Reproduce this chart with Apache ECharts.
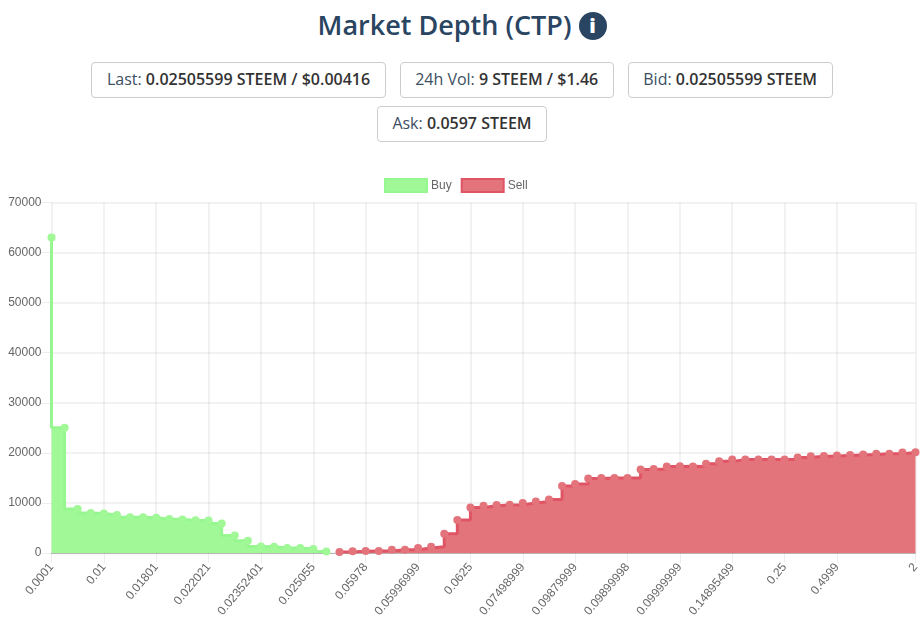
<!DOCTYPE html>
<html>
<head>
<meta charset="utf-8">
<title>Market Depth (CTP)</title>
<script src="https://cdn.jsdelivr.net/npm/echarts@6/dist/echarts.min.js"></script>
<style>
  html, body { margin: 0; padding: 0; background: #fff; }
  body { width: 924px; height: 633px; overflow: hidden; font-family: "Open Sans", sans-serif; position: relative; }
  h1 { position: absolute; left: 0; top: 5px; width: 924px; margin: 0; text-align: center; font-size: 27px; line-height: 40px; font-weight: 600; color: #2a4562; }
  .info { display: inline-block; width: 28px; height: 28px; line-height: 28px; border-radius: 50%; background: #2a4562; color: #fff; font-size: 20px; font-weight: 800; vertical-align: 2px; }
  .stats { position: absolute; left: 82px; top: 62px; width: 760px; display: flex; flex-wrap: wrap; justify-content: center; gap: 8px 14px; }
  .stats div { box-sizing: border-box; height: 36px; line-height: 33px; padding: 0 14.5px; border: 1px solid #ccc; border-radius: 4px; font-size: 16px; color: #3c4f63; white-space: nowrap; }
  .stats b { font-weight: 600; color: #333; }
  #chart { position: absolute; left: 0; top: 170px; width: 924px; height: 463px; }
</style>
</head>
<body>
<h1>Market Depth (CTP) <span class="info">i</span></h1>
<div class="stats">
  <div>Last: <b>0.02505599 STEEM / $0.00416</b></div>
  <div>24h Vol: <b>9 STEEM / $1.46</b></div>
  <div>Bid: <b>0.02505599 STEEM</b></div>
  <div>Ask: <b>0.0597 STEEM</b></div>
</div>
<div id="chart"></div>
<script>
// 读图估的数值
var buyDepth = [63000, 25000, 8800, 8000, 7900, 7600, 7150, 7150, 7050, 6800, 6700,
  6550, 6500, 5900, 3500, 2450, 1300, 1250, 1000, 1000, 800, 300];
var sellDepth = [200, 350, 400, 400, 650, 650, 1000, 1250, 3850, 6600, 9100, 9450,
  9600, 9650, 10000, 10300, 10700, 13400, 13800, 14900, 15000, 15000, 15000, 16700,
  16800, 17300, 17350, 17300, 17800, 18300, 18650, 18650, 18650, 18650, 18650, 19050,
  19300, 19350, 19450, 19550, 19650, 19800, 19800, 20050, 20100];
// x轴只显示这些价格
var tickIndex = [0, 4, 8, 12, 16, 20, 24, 28, 32, 36, 40, 44, 48, 52, 56, 60, 66];
var tickLabels = ['0.0001', '0.01', '0.01801', '0.022021', '0.02352401', '0.025055',
  '0.05978', '0.05996999', '0.0625', '0.07498999', '0.09879999', '0.09899998',
  '0.09999999', '0.14895499', '0.25', '0.4999', '2'];

var pointCount = buyDepth.length + sellDepth.length;
var categories = [];
for (var i = 0; i < pointCount; i++) {
  var k = tickIndex.indexOf(i);
  categories.push(k >= 0 ? tickLabels[k] : '');
}
var buyData = buyDepth.concat(sellDepth.map(function () { return null; }));
var sellData = buyDepth.map(function () { return null; }).concat(sellDepth);

function isTick(index) {
  return tickIndex.indexOf(index) >= 0;
}

var gridColor = 'rgba(0,0,0,0.07)';
var buyFill = '#a0f897', buyLine = '#96f68f';
var sellFill = '#e4747c', sellLine = '#df5565';

var myChart = echarts.init(document.getElementById('chart'));
var option = {
  animation: false,
  textStyle: { fontFamily: '"Liberation Sans", Arial, sans-serif' },
  legend: {
    top: 3,
    left: 379,
    itemWidth: 42,
    itemHeight: 13,
    itemGap: 9,
    textStyle: { color: '#666', fontSize: 12, padding: [0, 0, 0, -1] },
    data: [
      { name: 'Buy', icon: 'rect', itemStyle: { color: buyFill, borderColor: buyLine, borderWidth: 2 } },
      { name: 'Sell', icon: 'rect', itemStyle: { color: sellFill, borderColor: sellLine, borderWidth: 2 } }
    ]
  },
  grid: { left: 51.5, right: 8.5, top: 32.5, bottom: 80 },
  xAxis: {
    type: 'category',
    boundaryGap: false,
    data: categories,
    axisLine: { lineStyle: { color: 'rgba(0,0,0,0.25)' } },
    axisTick: { length: 10, interval: function (index) { return isTick(index); }, lineStyle: { color: gridColor } },
    splitLine: { show: true, interval: function (index) { return isTick(index); }, lineStyle: { color: gridColor, width: 1.5 } },
    axisLabel: { interval: function (index) { return isTick(index); }, rotate: 50, color: '#666', fontSize: 12, margin: 12 }
  },
  yAxis: {
    type: 'value',
    min: 0,
    max: 70000,
    interval: 10000,
    axisLine: { show: false },
    axisTick: { show: true, length: 10, lineStyle: { color: gridColor } },
    splitLine: { lineStyle: { color: gridColor, width: 1.5 } },
    axisLabel: { color: '#666', fontSize: 12, margin: 10, formatter: function (v) { return String(v); } }
  },
  series: [
    {
      name: 'Buy',
      type: 'line',
      step: 'start',
      data: buyData,
      clip: false,
      showAllSymbol: true,
      symbol: 'circle',
      symbolSize: 8,
      itemStyle: { color: buyFill },
      lineStyle: { color: buyLine, width: 3 },
      areaStyle: { color: buyFill, opacity: 1 }
    },
    {
      name: 'Sell',
      type: 'line',
      step: 'end',
      data: sellData,
      clip: false,
      showAllSymbol: true,
      symbol: 'circle',
      symbolSize: 8,
      itemStyle: { color: sellFill },
      lineStyle: { color: sellLine, width: 3 },
      areaStyle: { color: sellFill, opacity: 1 }
    }
  ]
};
myChart.setOption(option);
</script>
</body>
</html>
